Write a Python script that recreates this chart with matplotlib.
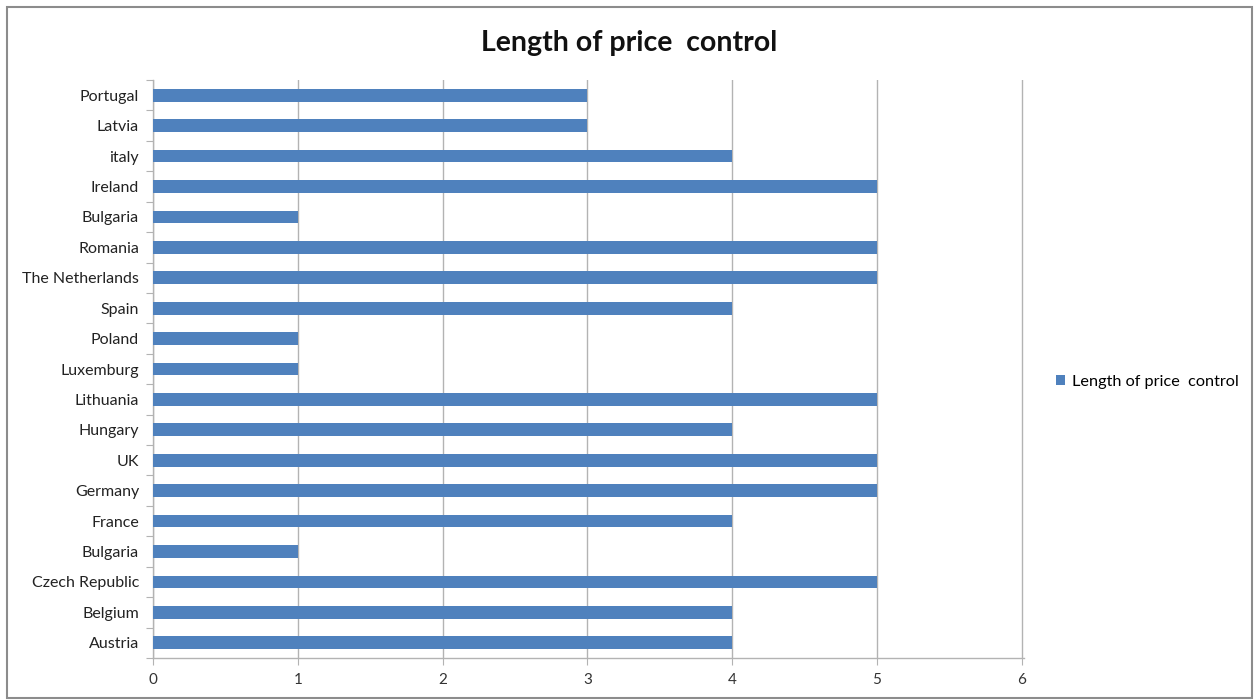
import numpy as np
import matplotlib.pyplot as plt
from matplotlib.patches import Rectangle

# Countries listed bottom to top, as they sit on the axis
countries = [
    'Austria', 'Belgium', 'Czech Republic', 'Bulgaria', 'France', 'Germany',
    'UK', 'Hungary', 'Lithuania', 'Luxemburg', 'Poland', 'Spain',
    'The Netherlands', 'Romania', 'Bulgaria', 'Ireland', 'italy', 'Latvia',
    'Portugal',
]
years = [4, 4, 5, 1, 4, 5, 5, 4, 5, 1, 1, 4, 5, 5, 1, 5, 4, 3, 3]
x_ticks = [0, 1, 2, 3, 4, 5, 6]

series_label = 'Length of price  control'
bar_color = '#4F81BD'
grid_color = '#B3B3B3'

plt.rcParams['font.family'] = ['Lato', 'DejaVu Sans']

fig = plt.figure(figsize=(12.59, 7.0), dpi=100)
ax = fig.add_axes([0.1215, 0.06, 0.6915, 0.8257])

pos = np.arange(len(countries))
ax.barh(pos, years, height=0.42, color=bar_color, label=series_label, zorder=3)

# small margin so the last gridline at 6 is not clipped
ax.set_xlim(0, 6.012)
ax.set_ylim(-0.5, len(countries) - 0.5)

# x axis: integer ticks with vertical gridlines
ax.set_xticks(x_ticks)
ax.tick_params(axis='x', direction='out', length=5, color=grid_color,
               labelsize=11, labelcolor='#333333', pad=6)
ax.xaxis.grid(True, color=grid_color, linewidth=1.0, zorder=0)

# y axis: tick marks between categories, labels centred on the bars
ax.set_yticks(np.arange(-0.5, len(countries), 1.0))
ax.set_yticklabels([])
ax.set_yticks(pos, minor=True)
ax.set_yticklabels(countries, minor=True)
ax.tick_params(axis='y', which='major', direction='out', length=5,
               color=grid_color)
ax.tick_params(axis='y', which='minor', length=0, labelsize=11.5,
               labelcolor='#222222', pad=10)

for side in ('top', 'right'):
    ax.spines[side].set_visible(False)
for side in ('left', 'bottom'):
    ax.spines[side].set_color(grid_color)
    ax.spines[side].set_linewidth(1.0)

fig.text(0.5, 0.938, series_label, ha='center', va='center',
         fontsize=20.5, fontweight='bold', color='#111111')

ax.legend(loc='center left', bbox_to_anchor=(1.02, 0.4775), frameon=False,
          fontsize=11.7, handlelength=0.6, handleheight=0.6, handletextpad=0.4)

# outer chart frame
fig.patches.append(Rectangle((7 / 1259, 2 / 700), 1245 / 1259, 691 / 700,
                             transform=fig.transFigure, fill=False,
                             edgecolor='#8C8C8C', linewidth=1.5))

fig.savefig('out.png', dpi=100, facecolor='white')
